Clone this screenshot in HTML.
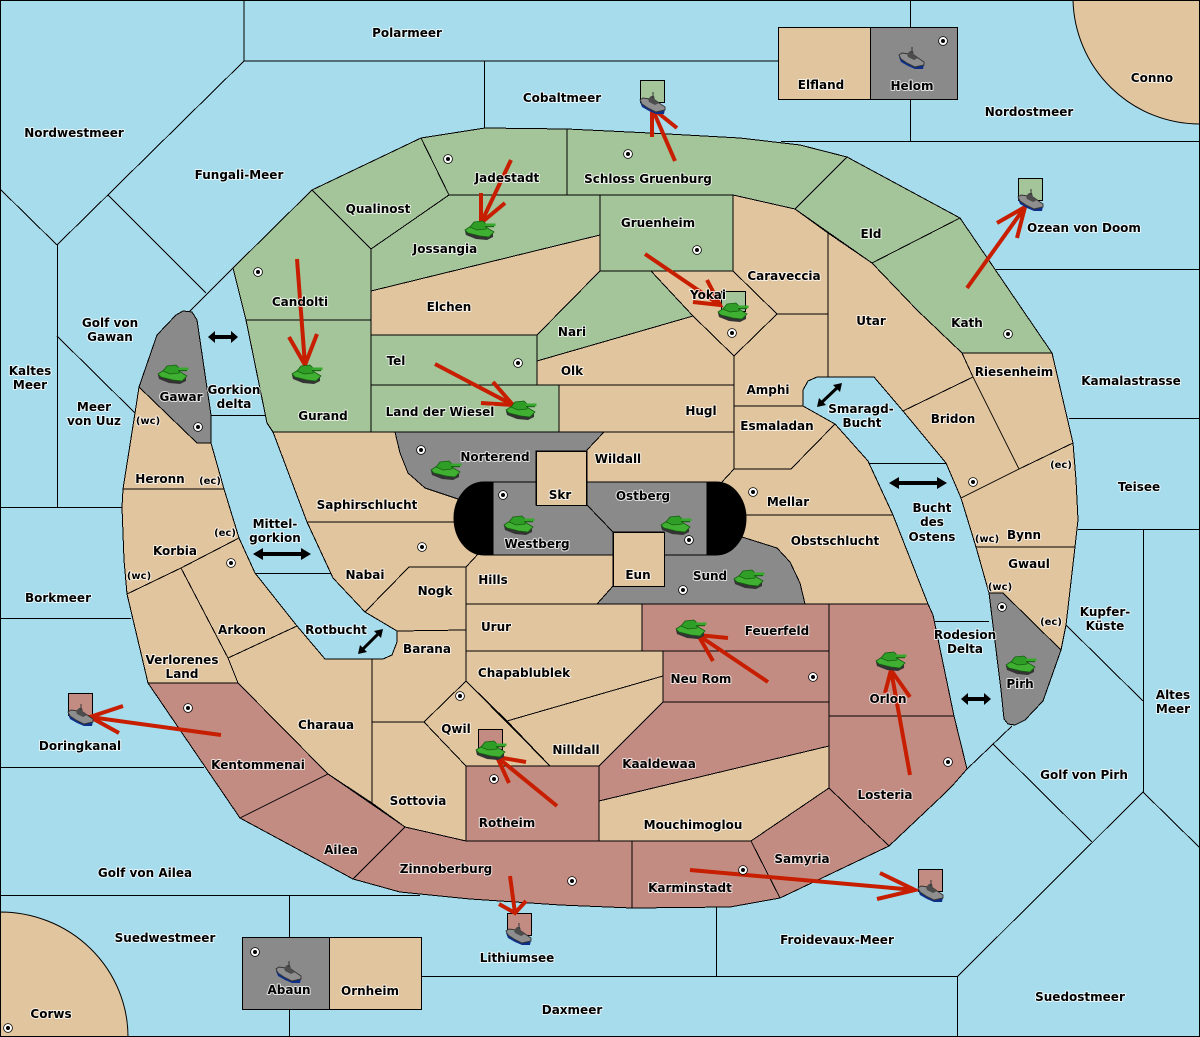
<!DOCTYPE html>
<html><head><meta charset="utf-8"><style>
html,body{margin:0;padding:0;background:#a7dcec}
svg{display:block}
.p polygon,.p rect{stroke:#000;stroke-width:1;stroke-linejoin:miter;shape-rendering:crispEdges}
.p path{stroke:#000;stroke-width:1}
.l{fill:#e1c59e}.g{fill:#a4c49a}.r{fill:#c38c83}.k{fill:#8a8a8a}
.s line,.s polyline{stroke:#000;stroke-width:1;fill:none;shape-rendering:crispEdges}
.a path{fill:none;stroke:#c81e00;stroke-width:4;stroke-linecap:butt;stroke-linejoin:miter}
.b path{fill:none;stroke:#000;stroke-width:3}
text{font-family:"DejaVu Sans","Liberation Sans",sans-serif;font-weight:bold;font-size:12px;text-anchor:middle;fill:#000;stroke:#fff;stroke-width:2px;stroke-opacity:.75;paint-order:stroke;stroke-linejoin:round}
</style></head><body>
<svg width="1200" height="1037" viewBox="0 0 1200 1037" xmlns="http://www.w3.org/2000/svg">
<defs>
<g id="t">
<polygon points="-15,1 -14,5 -4,9 7,10 13,7 13,3" fill="#333"/>
<polygon points="-15,0 -9,-4 4,-4 14,2 9,7 0,6 -12,3" fill="#3fb032" stroke="#155f10" stroke-width=".8"/>
<polygon points="-10,-3 -6,-8 3,-9 7,-5 6,-1 -3,0" fill="#2f9e26" stroke="#155f10" stroke-width=".8"/>
<rect x="5" y="-6.500" width="10.500" height="2.600" fill="#36a82c"/>
<rect x="5" y="-3.900" width="9" height="1.100" fill="#155f10"/>
</g>
<g id="w">
<polygon points="0,10 2,15 9,19 16,22 24,22 25,17" fill="#0d2f8a"/>
<polygon points="0,8 3,6 10,7 15,8 22,13 25,15 25,18 16,20 8,16 2,12" fill="#8e8e8e" stroke="#333" stroke-width=".9"/>
<polygon points="8,7 11,4 14,4 15,8 19,11 15,13 9,10" fill="#4c4c4c"/>
<line x1="13" y1="0" x2="13" y2="6" stroke="#333" stroke-width="1"/>
</g>
<g id="o">
<circle r="4.400" fill="#fff" stroke="#000" stroke-width=".8"/>
<circle r="2" fill="#000"/>
</g>
</defs>

<rect width="1200" height="1037" fill="#a7dcec"/>

<g class="s">
<line x1="244" y1="0" x2="244" y2="61"/>
<line x1="244" y1="61" x2="778" y2="61"/>
<line x1="484.500" y1="61" x2="484.500" y2="128"/>
<line x1="910.500" y1="0" x2="910.500" y2="141"/>
<line x1="781" y1="141.500" x2="1200" y2="141.500"/>
<line x1="57.500" y1="245" x2="57.500" y2="507"/>
<line x1="0" y1="507.500" x2="122" y2="507.500"/>
<line x1="211" y1="415.500" x2="266" y2="415.500"/>
<line x1="0" y1="618.500" x2="131" y2="618.500"/>
<line x1="0" y1="767.500" x2="204" y2="767.500"/>
<line x1="0" y1="895.500" x2="420" y2="895.500"/>
<line x1="289.500" y1="895" x2="289.500" y2="1037"/>
<line x1="421" y1="976.500" x2="957" y2="976.500"/>
<line x1="716.500" y1="906" x2="716.500" y2="977"/>
<line x1="957.500" y1="977" x2="957.500" y2="1037"/>
<line x1="996" y1="269.500" x2="1200" y2="269.500"/>
<line x1="1069" y1="418.500" x2="1200" y2="418.500"/>
<line x1="1078" y1="529.500" x2="1200" y2="529.500"/>
<line x1="1143.500" y1="529" x2="1143.500" y2="792"/>
<line x1="868" y1="463.500" x2="946" y2="463.500"/>
<line x1="935" y1="621.500" x2="989" y2="621.500"/>
<line x1="255" y1="573.500" x2="333" y2="573.500"/>
<line x1="244" y1="61" x2="57" y2="245"/>
<line x1="0" y1="189" x2="57" y2="245"/>
<line x1="108" y1="195" x2="206" y2="293"/>
<line x1="189" y1="312" x2="233" y2="268"/>
<line x1="57" y1="336" x2="135" y2="413"/>
<line x1="1012" y1="726" x2="967" y2="769"/>
<line x1="993" y1="744" x2="1092" y2="842"/>
<line x1="1143" y1="792" x2="957" y2="977"/>
<line x1="1143" y1="792" x2="1200" y2="848"/>
<line x1="1066" y1="625" x2="1143" y2="701"/>
</g>

<g class="p">
<path class="l" d="M1073,0 A127,127 0 0 0 1200,124 V0 Z"/>
<path class="l" d="M0,912 A128,125 0 0 1 128,1037 H0 Z"/>
<rect class="l" x="778.500" y="27.500" width="92" height="72"/>
<rect class="k" x="870.500" y="27.500" width="87" height="72"/>
<rect class="k" x="242.500" y="937.500" width="87" height="72"/>
<rect class="l" x="329.500" y="937.500" width="92" height="72"/>

<polygon class="g" points="233,268 312,190 371,249 371,320 246,320"/>
<polygon class="g" points="246,320 371,320 371,432 273,432 267,423"/>
<polygon class="g" points="312,190 421,138 449,195 371,249"/>
<polygon class="g" points="421,138 485,128 567,129 567,195 449,195"/>
<polygon class="g" points="567,129 650,133 740,138 800,145 847,157 795,209 733,195 567,195"/>
<polygon class="g" points="847,157 960,218 872,263 795,209"/>
<polygon class="g" points="872,263 960,218 1052,353 962,353 917,310"/>
<polygon class="g" points="449,195 600,195 600,235 371,291 371,249"/>
<polygon class="g" points="600,195 733,195 733,271 600,271"/>
<polygon class="l" points="371,291 600,235 600,271 537,335 371,335"/>
<polygon class="g" points="600,271 651,271 693,316 537,361 537,335"/>
<polygon class="l" points="651,271 733,271 777,314 734,356 693,316"/>
<polygon class="l" points="733,195 795,209 828,233 828,314 777,314 733,271"/>
<polygon class="l" points="693,316 734,356 734,385 537,385 537,361"/>
<polygon class="g" points="371,335 537,335 537,385 371,385"/>
<polygon class="g" points="371,385 559,385 559,432 371,432"/>
<polygon class="l" points="559,385 734,385 734,432 559,432"/>
<polygon class="l" points="734,356 777,314 828,314 828,377 817,377 808,381 803,390 803,406 734,406"/>
<polygon class="l" points="734,406 803,406 835,424 791,469 734,469"/>
<polygon class="l" points="828,233 872,263 917,310 962,353 973,377 903,411 874,377 828,377"/>
<polygon class="l" points="962,353 1052,353 1073,443 1019,469 973,377"/>
<polygon class="l" points="973,377 1019,469 961,498 946,463 903,411"/>
<polygon class="l" points="961,498 1019,469 1073,443 1076,480 1078,520 1075,547 976,547"/>
<polygon class="l" points="976,547 1075,547 1066,625 1061,650 1003,593 989,593"/>
<polygon class="k" points="989,593 1003,593 1061,650 1043,701 1025,720 1015,725 1008,724 1004,719 1001,690"/>
<polygon class="l" points="734,469 791,469 835,424 868,461 893,515 735,515 730,500 721,483"/>
<polygon class="l" points="735,515 893,515 928,604 805,604 800,583 790,562 777,548 742,537 735,530"/>
<polygon class="k" points="597,604 613,586 664,586 664,555 707,555 742,537 777,548 790,562 800,583 805,604"/>
<polygon class="k" points="395,432 604,432 587,450 587,451 536,451 536,482 480,490 458,499 425,488 408,473 400,453"/>
<polygon class="l" points="604,432 734,432 734,469 721,483 587,482 587,450"/>
<polygon class="l" points="273,432 395,432 400,453 408,473 425,488 458,499 475,522 307,522"/>
<polygon class="l" points="307,522 475,522 479,553 466,567 409,567 365,612 333,578"/>
<polygon class="l" points="409,567 466,567 466,630 397,631 365,612"/>
<polygon class="l" points="479,553 490,545 613,545 613,586 597,604 466,604 466,567"/>
<polygon class="l" points="466,604 642,604 642,651 466,651"/>
<polygon class="l" points="397,631 466,630 466,681 424,722 372,722 372,659 383,659 392,655 397,642"/>
<polygon class="l" points="297,626 325,659 372,659 372,803 328,774 238,683 228,658"/>
<polygon class="l" points="181,568 239,538 255,573 297,626 228,658"/>
<polygon class="l" points="122,507 123,489 224,489 239,538 181,568 127,594 124,560"/>
<polygon class="l" points="139,387 197,443 211,443 224,489 123,489 135,413"/>
<polygon class="k" points="139,387 157,335 176,315 183,311 192,312 197,320 211,415 211,443 197,443"/>
<polygon class="l" points="127,594 181,568 228,658 238,683 148,683"/>
<polygon class="r" points="148,683 238,683 328,774 240,818"/>
<polygon class="r" points="240,818 328,774 405,827 353,879"/>
<polygon class="l" points="372,722 424,722 466,766 466,841 405,827 372,803"/>
<polygon class="r" points="405,827 466,841 632,841 632,908 560,905 470,899 400,892 353,879"/>
<polygon class="r" points="466,766 599,766 599,841 466,841"/>
<polygon class="l" points="466,681 550,766 466,766 424,722"/>
<polygon class="l" points="466,651 663,651 663,676 507,721 466,681"/>
<polygon class="l" points="507,721 663,676 663,702 599,766 550,766"/>
<polygon class="r" points="642,604 829,604 829,651 642,651"/>
<polygon class="r" points="663,651 829,651 829,702 663,702"/>
<polygon class="r" points="829,604 928,604 933,615 954,716 829,716"/>
<polygon class="r" points="829,716 954,716 967,769 953,785 943,795 889,846 829,788"/>
<polygon class="r" points="663,702 829,702 829,746 599,801 599,766"/>
<polygon class="l" points="599,801 829,746 829,788 751,841 599,841"/>
<polygon class="r" points="829,788 889,846 822,878 780,898 751,841"/>
<polygon class="r" points="632,841 751,841 780,898 730,907 632,908"/>
<polygon class="k" points="493,482 536,482 536,505 587,505 613,532 613,555 493,555"/>
<polygon class="k" points="587,482 707,482 707,555 664,555 664,532 613,532 587,505"/>
<rect class="l" x="536.500" y="451.500" width="50" height="54"/>
<rect class="l" x="613.500" y="532.500" width="51" height="54"/>
<path d="M493,482 H484 C466,482 454,500 454,518 C454,537 466,555 484,555 H493 Z" fill="#000"/>
<path d="M707,482 H716 C734,482 746,500 746,518 C746,537 734,555 716,555 H707 Z" fill="#000"/>

<rect class="g" x="640.500" y="80.500" width="24" height="22"/>
<rect class="g" x="1018.500" y="178.500" width="24" height="22"/>
<rect class="r" x="68.500" y="693.500" width="24" height="22"/>
<rect class="r" x="918.500" y="869.500" width="24" height="22"/>
<rect class="r" x="507.500" y="913.500" width="24" height="22"/>
<rect class="r" x="478.500" y="729.500" width="24" height="20"/>
<rect class="g" x="721.500" y="291.500" width="24" height="20"/>
</g>

<g class="a">
<path d="M297,259 L305,365 M289,337 L305,365 L317,334"/>
<path d="M511,160 L481,223 M481,193 L481,223 L505,203"/>
<path d="M675,161 L652,108 M652,137 L652,108 L677,128"/>
<path d="M645,254 L720,305 M707,280 L720,305 L693,302"/>
<path d="M967,288 L1025,207 M997,223 L1025,207 L1017,238"/>
<path d="M435,364 L513,405 M493,382 L513,405 L481,403"/>
<path d="M221,735 L90,717 M123,706 L90,717 L119,733"/>
<path d="M768,682 L698,635 M728,638 L698,635 L713,661"/>
<path d="M557,806 L497,757 M526,762 L497,757 L509,783"/>
<path d="M910,775 L891,670 M910,697 L891,670 L885,693"/>
<path d="M510,876 L515,913 M499,904 L515,913 L526,901"/>
<path d="M690,870 L915,890 M880,873 L915,890 L877,899"/>
</g>

<g>
<polygon points="208,337 215,331 215,335 231,335 231,331 238,337 231,343 231,339 215,339 215,343"/>
<polygon points="889,483 899,477 899,481 937,481 937,477 947,483 937,489 937,485 899,485 899,489"/>
<polygon points="253,554 263,548 263,552 301,552 301,548 311,554 301,560 301,556 263,556 263,560"/>
<polygon points="961,699 968,693 968,697 984,697 984,693 991,699 984,705 984,701 968,701 968,705"/>
</g>
<g class="b">
<path d="M820,404 L839,386"/><path d="M361,651 L380,632"/>
</g>
<polygon points="817,407 819,398 826,405"/><polygon points="842,383 840,392 833,385"/>
<polygon points="358,654 360,645 367,652"/><polygon points="383,629 381,638 374,631"/>

<use href="#w" x="640" y="92"/>
<use href="#w" x="1018" y="189"/>
<use href="#w" x="68" y="704"/>
<use href="#w" x="918" y="880"/>
<use href="#w" x="506" y="923"/>
<use href="#w" x="899" y="47"/>
<use href="#w" x="276" y="961"/>

<use href="#t" x="173" y="374"/>
<use href="#t" x="307" y="374"/>
<use href="#t" x="480" y="230"/>
<use href="#t" x="521" y="410"/>
<use href="#t" x="446" y="470"/>
<use href="#t" x="733" y="312"/>
<use href="#t" x="519" y="525"/>
<use href="#t" x="676" y="525"/>
<use href="#t" x="749" y="579"/>
<use href="#t" x="691" y="629"/>
<use href="#t" x="891" y="661"/>
<use href="#t" x="1021" y="665"/>
<use href="#t" x="491" y="750"/>

<use href="#o" x="448" y="159"/><use href="#o" x="628" y="154"/><use href="#o" x="943" y="41"/>
<use href="#o" x="697" y="250"/><use href="#o" x="258" y="272"/><use href="#o" x="732" y="333"/>
<use href="#o" x="518" y="363"/><use href="#o" x="1008" y="334"/><use href="#o" x="198" y="427"/>
<use href="#o" x="421" y="450"/><use href="#o" x="503" y="495"/><use href="#o" x="753" y="492"/>
<use href="#o" x="973" y="482"/><use href="#o" x="422" y="547"/><use href="#o" x="231" y="563"/>
<use href="#o" x="689" y="540"/><use href="#o" x="683" y="590"/><use href="#o" x="1002" y="607"/>
<use href="#o" x="460" y="696"/><use href="#o" x="813" y="677"/><use href="#o" x="188" y="708"/>
<use href="#o" x="494" y="779"/><use href="#o" x="948" y="762"/><use href="#o" x="572" y="881"/>
<use href="#o" x="743" y="870"/><use href="#o" x="255" y="952"/><use href="#o" x="8" y="1028"/>

<g>
<text x="407" y="37">Polarmeer</text>
<text x="562" y="102">Cobaltmeer</text>
<text x="821" y="89">Elfland</text>
<text x="912" y="90">Helom</text>
<text x="1152" y="82">Conno</text>
<text x="1029" y="116">Nordostmeer</text>
<text x="74" y="137">Nordwestmeer</text>
<text x="239" y="179">Fungali-Meer</text>
<text x="648" y="183">Schloss Gruenburg</text>
<text x="507" y="182">Jadestadt</text>
<text x="378" y="213">Qualinost</text>
<text x="445" y="253">Jossangia</text>
<text x="658" y="227">Gruenheim</text>
<text x="871" y="238">Eld</text>
<text x="1084" y="232">Ozean von Doom</text>
<text x="784" y="280">Caraveccia</text>
<text x="110" y="327">Golf von</text>
<text x="110" y="341">Gawan</text>
<text x="300" y="306">Candolti</text>
<text x="449" y="311">Elchen</text>
<text x="708" y="299">Yokai</text>
<text x="572" y="336">Nari</text>
<text x="871" y="325">Utar</text>
<text x="967" y="327">Kath</text>
<text x="30" y="375">Kaltes</text>
<text x="30" y="389">Meer</text>
<text x="396" y="365">Tel</text>
<text x="572" y="375">Olk</text>
<text x="181" y="401">Gawar</text>
<text x="768" y="394">Amphi</text>
<text x="1014" y="376">Riesenheim</text>
<text x="1131" y="385">Kamalastrasse</text>
<text x="94" y="411">Meer</text>
<text x="94" y="425">von Uuz</text>
<text x="234" y="394">Gorkion</text>
<text x="234" y="408">delta</text>
<text x="148" y="424" style="font-size:10px">(wc)</text>
<text x="323" y="420">Gurand</text>
<text x="440" y="416">Land der Wiesel</text>
<text x="701" y="415">Hugl</text>
<text x="953" y="423">Bridon</text>
<text x="861" y="413">Smaragd-</text>
<text x="862" y="427">Bucht</text>
<text x="777" y="430">Esmaladan</text>
<text x="495" y="461">Norterend</text>
<text x="618" y="463">Wildall</text>
<text x="160" y="483">Heronn</text>
<text x="210" y="484" style="font-size:10px">(ec)</text>
<text x="1061" y="468" style="font-size:10px">(ec)</text>
<text x="1139" y="491">Teisee</text>
<text x="560" y="499">Skr</text>
<text x="643" y="500">Ostberg</text>
<text x="788" y="506">Mellar</text>
<text x="367" y="509">Saphirschlucht</text>
<text x="932" y="512">Bucht</text>
<text x="932" y="526">des</text>
<text x="932" y="541">Ostens</text>
<text x="537" y="548">Westberg</text>
<text x="275" y="528">Mittel-</text>
<text x="275" y="542">gorkion</text>
<text x="175" y="555">Korbia</text>
<text x="225" y="536" style="font-size:10px">(ec)</text>
<text x="1024" y="539">Bynn</text>
<text x="987" y="542" style="font-size:10px">(wc)</text>
<text x="835" y="545">Obstschlucht</text>
<text x="1029" y="568">Gwaul</text>
<text x="638" y="579">Eun</text>
<text x="710" y="580">Sund</text>
<text x="365" y="579">Nabai</text>
<text x="139" y="579" style="font-size:10px">(wc)</text>
<text x="493" y="584">Hills</text>
<text x="1000" y="590" style="font-size:10px">(wc)</text>
<text x="435" y="595">Nogk</text>
<text x="58" y="602">Borkmeer</text>
<text x="1105" y="616">Kupfer-</text>
<text x="1105" y="630">Küste</text>
<text x="496" y="631">Urur</text>
<text x="777" y="635">Feuerfeld</text>
<text x="242" y="634">Arkoon</text>
<text x="336" y="634">Rotbucht</text>
<text x="965" y="639">Rodesion</text>
<text x="965" y="653">Delta</text>
<text x="427" y="653">Barana</text>
<text x="1051" y="625" style="font-size:10px">(ec)</text>
<text x="524" y="677">Chapablublek</text>
<text x="182" y="664">Verlorenes</text>
<text x="182" y="678">Land</text>
<text x="701" y="683">Neu Rom</text>
<text x="1020" y="688">Pirh</text>
<text x="888" y="703">Orlon</text>
<text x="1173" y="699">Altes</text>
<text x="1173" y="713">Meer</text>
<text x="326" y="729">Charaua</text>
<text x="456" y="733">Qwil</text>
<text x="80" y="750">Doringkanal</text>
<text x="576" y="754">Nilldall</text>
<text x="659" y="768">Kaaldewaa</text>
<text x="258" y="769">Kentommenai</text>
<text x="1084" y="779">Golf von Pirh</text>
<text x="885" y="799">Losteria</text>
<text x="418" y="805">Sottovia</text>
<text x="507" y="827">Rotheim</text>
<text x="693" y="829">Mouchimoglou</text>
<text x="341" y="854">Ailea</text>
<text x="802" y="863">Samyria</text>
<text x="145" y="877">Golf von Ailea</text>
<text x="446" y="873">Zinnoberburg</text>
<text x="690" y="892">Karminstadt</text>
<text x="165" y="942">Suedwestmeer</text>
<text x="837" y="944">Froidevaux-Meer</text>
<text x="517" y="962">Lithiumsee</text>
<text x="289" y="994">Abaun</text>
<text x="370" y="995">Ornheim</text>
<text x="572" y="1014">Daxmeer</text>
<text x="1080" y="1001">Suedostmeer</text>
<text x="51" y="1018">Corws</text>
</g>
<rect x=".5" y=".5" width="1199" height="1036" fill="none" stroke="#000" stroke-width="1" shape-rendering="crispEdges"/>
</svg>
</body></html>
